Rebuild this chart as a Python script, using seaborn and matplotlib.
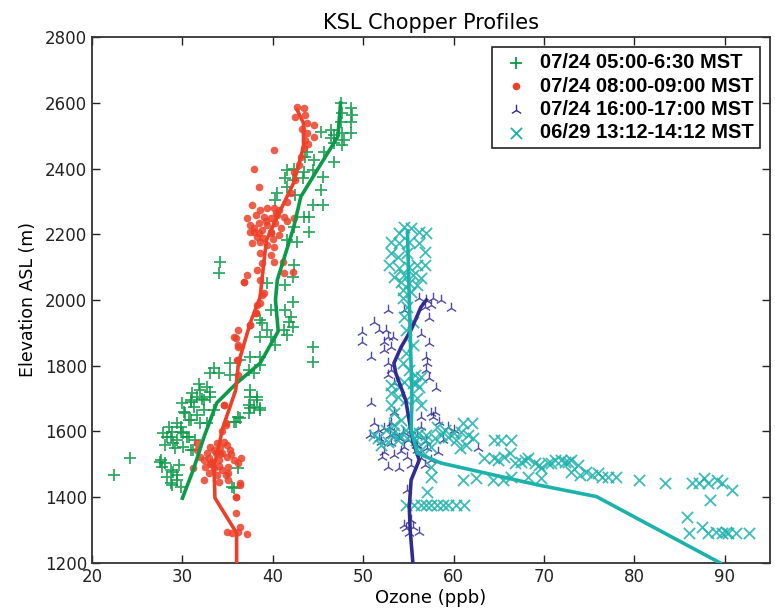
import matplotlib
matplotlib.use("Agg")
import matplotlib.pyplot as plt
import seaborn as sns
import pandas as pd

# ---------------- data (ozone ppb, elevation m) ----------------
labels = ["07/24 05:00-6:30 MST", "07/24 08:00-09:00 MST",
          "07/24 16:00-17:00 MST", "06/29 13:12-14:12 MST"]

# Series 1: 07/24 05:00-6:30 (green +)
g_x = [47.5, 48.6, 47.7, 48.8, 47.5, 48.6, 45.3, 46.4, 46.8, 47.7, 48.6, 46.4, 47.9, 46.8, 47.7,
       43.8, 45.7, 43.6, 44.6, 46.8, 41.6, 42.3, 43.5, 44.4, 45.5, 41.4, 42.2, 43.3, 41.6, 45.3,
       40.5, 42.5, 40.3, 44.4, 45.5, 43.5, 44.0, 42.3,
       44.0, 41.6, 42.7, 34.2, 34.0, 42.3, 42.2, 39.4, 41.4, 42.2, 39.8, 41.4, 38.6, 42.0, 41.8,
       38.8, 42.2, 39.4, 41.2, 38.6, 39.8, 41.6, 44.4, 44.4, 40.3, 37.5, 38.6, 36.4, 35.3, 33.5,
       33.1, 34.0, 35.3, 37.4, 37.9, 38.6, 32.0, 32.7, 31.1, 30.0, 30.9, 31.6, 32.4, 33.1, 31.3,
       32.4, 33.5, 30.3, 31.6, 30.7, 32.0, 29.8, 28.8, 30.1, 28.3, 29.4, 30.7, 31.4, 28.1, 29.2,
       30.9, 24.2, 22.4, 27.6, 27.7, 28.7, 29.6, 28.3, 29.4, 28.8, 29.8, 36.2, 37.4, 37.9, 38.6,
       36.4, 37.4, 35.9, 35.7, 38.3, 37.5,
       37.5, 38.3, 38.6, 37.5, 36.1, 35.7, 32.7, 30.9, 35.5, 28.1, 27.5, 29.0, 29.4, 28.7,
       27.9, 28.7, 29.8, 30.5, 29.0, 30.1, 31.2, 28.5, 29.4, 31.0, 32.2, 33.0, 31.8, 30.2]
g_y = [2598, 2583, 2568, 2563, 2543, 2543, 2512, 2517, 2502, 2507, 2507, 2492, 2487, 2477, 2471,
       2451, 2451, 2436, 2426, 2421, 2395, 2400, 2390, 2395, 2375, 2370, 2365, 2370, 2345, 2335,
       2324, 2319, 2304, 2289, 2289, 2253, 2253, 2223,
       2208, 2182, 2177, 2117, 2081, 2106, 2071, 2051, 2046, 1995, 1970, 1970, 1939, 1949, 1934,
       1929, 1919, 1909, 1909, 1888, 1888, 1893, 1858, 1812, 1863, 1828, 1828, 1817, 1807, 1792,
       1777, 1777, 1772, 1787, 1777, 1802, 1726, 1736, 1716, 1686, 1696, 1706, 1696, 1706, 1676,
       1665, 1665, 1655, 1650, 1635, 1625, 1615, 1599, 1594, 1584, 1574, 1584, 1574, 1559, 1549,
       1544, 1518, 1468, 1513, 1493, 1483, 1498, 1462, 1468, 1437, 1432, 1488, 1680, 1675, 1665,
       1640, 1655, 1630, 1427, 1706, 1726,
       1706, 1696, 1670, 1670, 1645, 1630, 1625, 1635, 1432, 1503, 1508, 1478, 1452, 1442,
       1594, 1584, 1599, 1584, 1564, 1554, 1544, 1615, 1625, 1690, 1700, 1720, 1745, 1660]

# Series 2: 07/24 08:00-09:00 (red dots)
r_x = [42.7, 43.5, 42.5, 43.6, 43.8, 44.6, 43.8, 44.6, 43.6, 40.1, 43.5, 43.1, 42.9, 37.9, 42.3,
       42.5, 38.5, 42.0, 41.6, 37.7, 38.6, 39.4, 40.1, 40.7, 37.2, 38.1, 39.0, 39.8, 40.5, 41.2,
       42.3, 37.5, 38.5, 39.4, 40.3, 37.9, 38.8, 39.8, 40.9, 38.3,
       37.5, 38.5, 39.8, 40.7, 37.7, 38.6, 39.4, 40.1, 38.6, 39.8, 38.8, 40.1, 41.1, 38.3, 41.2,
       42.2, 37.2, 36.8, 38.6, 39.0, 38.6, 38.1, 37.5, 36.1, 35.7, 36.2, 36.1,
       35.9, 36.2, 37.5, 38.1, 38.3, 38.8, 36.8, 36.0, 36.1, 34.6, 34.8, 34.4, 31.6, 31.6,
       32.0, 32.7, 33.5, 34.2, 34.9, 34.6, 33.8, 33.1, 32.4, 33.3, 34.0, 34.9, 35.7, 36.1, 32.5,
       33.5, 34.4, 35.1, 32.9, 33.8, 34.8, 32.4, 34.0, 35.1, 36.4, 35.9, 35.9, 34.9, 35.5, 36.1,
       36.4, 37.1, 33.7, 32.9, 34.4, 35.3, 34.6, 34.8, 31.2, 36.4, 35.9, 33.0, 34.2, 35.0,
       39.2, 40.4, 41.6, 38.9, 40.0, 37.9, 43.2, 43.9, 34.0, 33.2, 35.4, 36.5]
r_y = [2588, 2583, 2558, 2563, 2537, 2532, 2507, 2497, 2487, 2456, 2461, 2436, 2411, 2400, 2390,
       2365, 2345, 2324, 2299, 2289, 2274, 2279, 2279, 2274, 2248, 2258, 2253, 2248, 2258, 2253,
       2248, 2228, 2233, 2228, 2233, 2208, 2213, 2208, 2218, 2193,
       2208, 2203, 2203, 2198, 2172, 2177, 2167, 2162, 2142, 2137, 2112, 2117, 2117, 2091, 2081,
       2086, 2076, 2056, 2061, 2020, 1990, 1959, 1924, 1909, 1888, 1858, 1817,
       1883, 1863, 1924, 1959, 1985, 2015, 2056, 1817, 1772, 1680, 1625, 1600, 1564, 1544,
       1523, 1534, 1544, 1554, 1559, 1569, 1564, 1554, 1513, 1508, 1513, 1523, 1513, 1503, 1493,
       1488, 1483, 1493, 1473, 1468, 1468, 1452, 1447, 1452, 1442, 1402, 1351, 1295, 1290, 1295,
       1310, 1288, 1534, 1518, 1534, 1544, 1680, 1620, 1488, 1437, 1402, 1500, 1530, 1475,
       2240, 2265, 2240, 2190, 2185, 2220, 2520, 2475, 1495, 1505, 1530, 1520]

# Series 3: 07/24 16:00-17:00 (blue tri)
b_x = [56.2, 57.0, 57.7, 58.6, 56.8, 57.5, 59.7, 52.7, 54.5, 57.3, 51.2, 49.9, 51.8, 52.5, 52.7,
       53.3, 52.3, 56.4, 49.9, 53.1, 52.3, 57.3, 50.9, 56.9, 52.7, 57.1, 53.1, 57.0, 57.3, 52.7,
       53.4, 50.9,
       58.1, 53.4, 53.1, 57.5, 57.9, 56.4, 51.2, 51.6, 50.7, 52.3, 52.9, 53.4, 54.4, 55.3, 56.4,
       57.7, 58.4, 59.4, 60.1, 52.0, 53.1, 54.5, 56.0, 57.1, 58.3, 52.3, 53.4, 54.9, 56.4, 57.5,
       52.7, 54.0, 55.3, 56.8, 52.1, 56.0, 62.7, 54.9, 55.3, 54.5, 55.5, 54.7, 56.2, 55.1,
       54.0, 55.0, 56.0, 53.0, 54.2, 55.8, 57.0, 51.8, 58.8]
b_y = [2005, 2000, 2005, 2000, 1980, 1985, 1975, 1970, 1970, 1944, 1934, 1904, 1909, 1909, 1888,
       1888, 1873, 1898, 1873, 1858, 1848, 1868, 1827, 1827, 1807, 1807, 1787, 1787, 1762, 1772,
       1746, 1686,
       1731, 1660, 1625, 1655, 1660, 1645, 1625, 1605, 1589, 1610, 1615, 1594, 1599, 1605, 1615,
       1645, 1630, 1615, 1605, 1569, 1564, 1554, 1544, 1549, 1539, 1539, 1528, 1523, 1518, 1513,
       1493, 1488, 1498, 1498, 1523, 1559, 1549, 1422, 1331, 1316, 1310, 1305, 1295, 1290,
       1580, 1575, 1585, 1590, 1540, 1560, 1570, 1580, 1575]

# Series 4: 06/29 13:12-14:12 (cyan x)
c_x = [54.5, 55.3, 56.2, 57.0, 54.0, 53.1, 54.0, 55.1, 56.2, 56.8, 53.1, 53.8, 54.9, 52.9, 54.0,
       55.1, 56.0, 56.8, 53.4, 54.5, 55.5, 56.4, 54.2, 55.1, 56.0, 54.4, 55.3, 54.4, 54.9, 54.5,
       55.5, 54.7, 55.5, 54.7, 54.4, 55.1, 55.7, 56.4, 55.8, 54.5,
       53.1, 54.0, 55.5, 56.2, 53.1, 53.8, 54.7, 56.0, 53.1, 56.4, 53.4, 54.2, 53.4, 52.5, 53.3,
       54.0, 54.7, 55.5, 56.2, 57.0, 51.6, 52.7, 53.8, 54.9, 55.8, 56.8, 57.9, 58.6, 59.4, 58.2,
       59.0, 60.1, 60.3, 61.0, 62.0, 60.8, 61.6, 62.1, 61.4, 60.7, 57.5, 56.4, 52.0, 51.2, 64.5,
       65.3, 66.4, 63.4, 64.5, 64.9, 65.6, 66.8, 67.9, 69.0, 69.7, 70.8, 71.9, 72.7, 57.5, 57.1,
       61.0, 62.5, 64.4, 65.5, 66.4, 68.2, 69.7,
       54.7, 55.6, 56.4, 57.0, 57.5, 58.2, 58.8, 59.4, 60.3, 61.2,
       66.2, 67.5, 68.2, 69.4, 70.5, 71.2, 72.3, 73.0, 73.8, 74.7, 75.3, 76.0, 76.4, 77.1, 78.0,
       80.5, 83.4, 86.4, 87.1, 87.7, 88.2, 89.1, 89.7, 90.8, 88.4, 85.8, 86.0, 87.5, 89.0, 89.7,
       90.4, 91.2, 92.7, 88.2, 90.1, 73.0, 74.0, 57.5]
c_y = [2223, 2218, 2208, 2203, 2203, 2177, 2172, 2177, 2172, 2147, 2142, 2132, 2142, 2106, 2096,
       2101, 2106, 2106, 2071, 2076, 2076, 2066, 2056, 2051, 2046, 2030, 2025, 2005, 1980, 1949,
       1934, 1909, 1863, 1838, 1807, 1787, 1772, 1767, 1746, 1752,
       1741, 1736, 1746, 1736, 1716, 1706, 1696, 1701, 1681, 1681, 1655, 1635, 1620, 1605, 1594,
       1589, 1605, 1599, 1594, 1589, 1579, 1569, 1574, 1579, 1574, 1574, 1579, 1589, 1584, 1615,
       1605, 1594, 1574, 1625, 1625, 1599, 1589, 1579, 1559, 1549, 1554, 1544, 1559, 1589, 1574,
       1574, 1574, 1518, 1518, 1513, 1523, 1503, 1513, 1503, 1488, 1503, 1513, 1508, 1463, 1417,
       1452, 1457, 1452, 1452, 1462, 1462, 1457,
       1376, 1376, 1376, 1376, 1376, 1376, 1376, 1376, 1376, 1376,
       1534, 1508, 1518, 1498, 1503, 1513, 1508, 1513, 1498, 1478, 1468, 1473, 1462, 1462, 1462,
       1452, 1442, 1442, 1442, 1457, 1442, 1452, 1442, 1422, 1392, 1341, 1290, 1310, 1295, 1290,
       1290, 1290, 1290, 1290, 1295, 1478, 1468, 1493]

# Smoothed profile lines
gl_x = [30.0, 31.2, 32.4, 33.8, 36.0, 38.6, 40.6, 40.3, 40.5, 42.3, 43.1, 44.9, 47.2, 47.5]
gl_y = [1397, 1483, 1584, 1687, 1747, 1808, 1905, 2000, 2061, 2220, 2314, 2395, 2497, 2599]
rl_x = [36.0, 36.0, 33.6, 33.5, 34.5, 35.9, 36.2, 37.5, 38.6, 39.0, 39.3, 40.5, 42.3, 43.4, 43.4, 42.7]
rl_y = [1200, 1291, 1398, 1492, 1614, 1726, 1808, 1930, 2009, 2112, 2182, 2253, 2356, 2466, 2538, 2578]
bl_x = [55.5, 55.2, 55.1, 55.3, 56.2, 55.5, 55.3, 54.7, 53.6, 53.4, 54.2, 55.3, 56.4, 57.0]
bl_y = [1200, 1300, 1370, 1452, 1513, 1570, 1600, 1696, 1778, 1808, 1857, 1909, 1979, 2000]
cl_x = [54.9, 55.0, 55.1, 55.2, 55.3, 55.4, 55.3, 56.0, 58.6, 69.4, 75.8, 89.5]
cl_y = [2210, 2100, 2000, 1900, 1800, 1700, 1604, 1534, 1504, 1437, 1402, 1200]

colors = ["#0b9a48", "#ec4028", "#322c92", "#1cb2ac"]

# ---------------- plotting ----------------
fig = plt.figure(figsize=(7.75, 6.15), dpi=100)
ax = fig.add_axes([0.1187, 0.0846, 0.8748, 0.8552])

series = [(g_x, g_y, "+", 75, 1.3), (r_x, r_y, "o", 30, 0),
          (b_x, b_y, "2", 70, 1.0), (c_x, c_y, "x", 65, 1.3)]
lines = [(gl_x, gl_y), (rl_x, rl_y), (bl_x, bl_y), (cl_x, cl_y)]

for (sx, sy, m, s, lw), lab, col in zip(series, labels, colors):
    df = pd.DataFrame({"ozone": sx, "elev": sy})
    sns.scatterplot(data=df, x="ozone", y="elev", marker=m, s=s, color=col,
                    linewidth=lw, edgecolor=col if m == "o" else None,
                    alpha=0.85, label=lab, ax=ax, zorder=2)

for (lx, ly), col in zip(lines, colors):
    dfl = pd.DataFrame({"ozone": lx, "elev": ly})
    sns.lineplot(data=dfl, x="ozone", y="elev", sort=False, estimator=None,
                 color=col, linewidth=2.6, ax=ax, legend=False, zorder=3)

ax.set_xlim(20, 95)
ax.set_ylim(1200, 2800)
ax.set_xticks(range(20, 100, 10))
ax.set_yticks(range(1200, 2900, 200))
ax.tick_params(direction="in", top=True, right=True, length=6, width=1,
               labelsize=12, colors="#222222")
for sp in ax.spines.values():
    sp.set_linewidth(1.3)
    sp.set_color("#333333")

ax.set_xlabel("Ozone (ppb)", fontsize=13, labelpad=2)
ax.set_ylabel("Elevation ASL (m)", fontsize=12.5, labelpad=6)
ax.set_title("KSL Chopper Profiles", fontsize=15, pad=6)

leg = ax.legend(loc="upper right", numpoints=1, scatterpoints=1, fancybox=False,
                framealpha=1, edgecolor="#222222", borderpad=0.3, labelspacing=0.22,
                handletextpad=0.3, borderaxespad=0.5, handlelength=1.8,
                prop={"family": "Liberation Sans", "weight": "bold", "size": 14.5})
leg.get_frame().set_linewidth(1.2)
for h in leg.legend_handles:
    h.set_alpha(1)

fig.savefig("out.png", dpi=100)
